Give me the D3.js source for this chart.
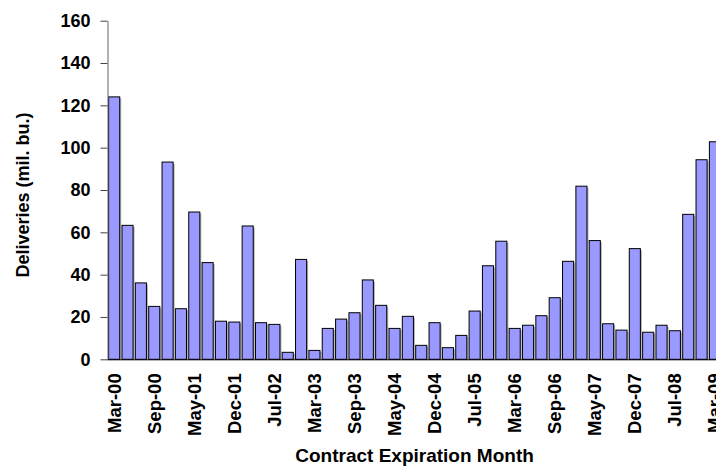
<!DOCTYPE html>
<html><head><meta charset="utf-8">
<script src="https://cdn.jsdelivr.net/npm/d3@7"></script>
<style>body{margin:0;background:#fff;overflow:hidden}svg{display:block}text{font-family:"Liberation Sans",Arial,sans-serif;font-weight:bold;fill:#000}</style>
</head><body>
<svg id="c" width="716" height="471"></svg>
<script>
const categories = ["Mar-00","May-00","Jul-00","Sep-00","Dec-00","Mar-01","May-01","Jul-01","Sep-01","Dec-01",
"Mar-02","May-02","Jul-02","Sep-02","Dec-02","Mar-03","May-03","Jul-03","Sep-03","Dec-03",
"Mar-04","May-04","Jul-04","Sep-04","Dec-04","Mar-05","May-05","Jul-05","Sep-05","Dec-05",
"Mar-06","May-06","Jul-06","Sep-06","Dec-06","Mar-07","May-07","Jul-07","Sep-07","Dec-07",
"Mar-08","May-08","Jul-08","Sep-08","Dec-08","Mar-09"];
const deliveries = [124,63.3,36.1,25.0,93.2,23.9,69.6,45.7,18.0,17.6,
63.0,17.3,16.5,3.3,47.2,4.2,14.6,19.0,22.0,37.5,
25.5,14.6,20.3,6.6,17.3,5.5,11.3,22.8,44.2,55.8,
14.6,16.1,20.6,29.1,46.3,81.8,56.1,16.8,13.8,52.3,
12.8,16.1,13.5,68.5,94.3,102.8];
const yTicks = [0,20,40,60,80,100,120,140,160];
const xLabelEvery = 3;
const yTitle = "Deliveries (mil. bu.)";
const xTitle = "Contract Expiration Month";

const svg = d3.select("#c");
const pL = 107.5, pR = 721.6, pT = 20.7, pB = 359.3;
const x = d3.scaleBand().domain(categories).range([pL, pR]).paddingInner(0.17).paddingOuter(0.085);
const y = d3.scaleLinear().domain([0,160]).range([pB, pT]);

// shadows
svg.append("g").selectAll("rect").data(categories).join("rect")
  .attr("x", d => x(d) + 1.5).attr("y", (d,i) => y(deliveries[i]) + 1.5)
  .attr("width", x.bandwidth()).attr("height", (d,i) => pB - y(deliveries[i]) - 1.5)
  .attr("fill", "#b0b0b0");
// bars
svg.append("g").selectAll("rect").data(categories).join("rect")
  .attr("x", d => x(d)).attr("y", (d,i) => y(deliveries[i]))
  .attr("width", x.bandwidth()).attr("height", (d,i) => pB - y(deliveries[i]))
  .attr("fill", "#9999FF").attr("stroke", "#000").attr("stroke-width", 1);

// y axis
const ya = svg.append("g").attr("transform", `translate(${pL},0)`)
  .call(d3.axisLeft(y).tickValues(yTicks).tickSize(7).tickPadding(10).tickSizeOuter(0));
ya.select(".domain").attr("stroke", "#666");
ya.selectAll(".tick line").attr("stroke", "#444");
ya.selectAll("text").style("font-size", "18px").attr("fill", "#000");

// x axis
const xa = svg.append("g").attr("transform", `translate(0,${pB})`)
  .call(d3.axisBottom(x).tickValues(categories.filter((d,i) => i % xLabelEvery === 0)).tickSize(0).tickSizeOuter(0));
xa.select(".domain").attr("d", `M${pL},0.5H716`).attr("stroke", "#000");
xa.selectAll("text").style("font-size", "18.5px").attr("fill", "#000")
  .attr("text-anchor", "end").attr("transform", "rotate(-90)")
  .attr("x", -14).attr("y", 0).attr("dy", "0.35em");

svg.append("text").attr("transform", `translate(23,${(pT+pB)/2 + 5}) rotate(-90)`)
  .attr("text-anchor", "middle").attr("dy", "0.35em").style("font-size", "18px").text(yTitle);
svg.append("text").attr("x", (pL+pR)/2).attr("y", 462)
  .attr("text-anchor", "middle").style("font-size", "19px").text(xTitle);
</script>
</body></html>
